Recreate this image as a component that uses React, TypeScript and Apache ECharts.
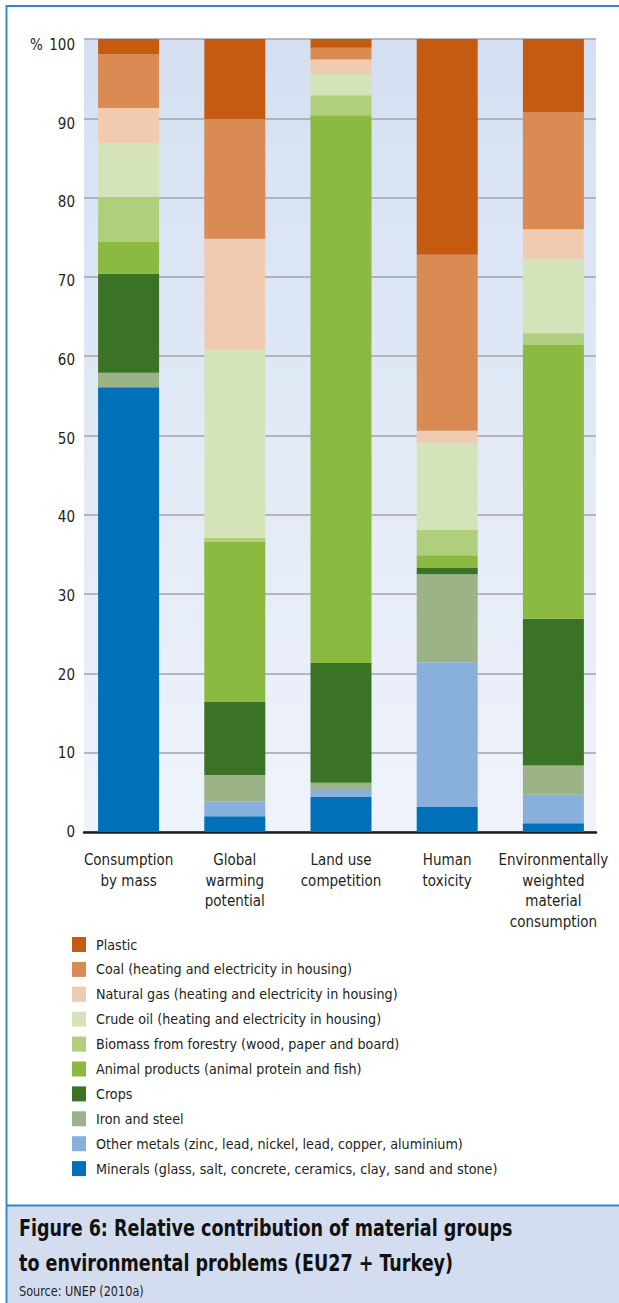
import React, { useEffect, useRef } from "react";
import * as echarts from "echarts";

const categories = [
  "Consumption\nby mass",
  "Global\nwarming\npotential",
  "Land use\ncompetition",
  "Human\ntoxicity",
  "Environmentally\nweighted\nmaterial\nconsumption",
];
const yTicks = [0, 10, 20, 30, 40, 50, 60, 70, 80, 90, 100];

const minerals = [56.1, 2.0, 4.4, 3.2, 1.1];
const otherMetals = [0, 1.8, 0.9, 18.2, 3.6];
const ironSteel = [1.8, 3.4, 0.9, 11.1, 3.7];
const crops = [12.5, 9.2, 15.1, 0.8, 18.5];
const animalProducts = [4.0, 20.2, 69.1, 1.6, 34.5];
const biomass = [5.7, 0.5, 2.5, 3.2, 1.5];
const crudeOil = [6.8, 23.8, 2.7, 11.0, 9.4];
const naturalGas = [4.4, 13.9, 1.8, 1.5, 3.7];
const coal = [6.8, 15.1, 1.5, 22.2, 14.8];
const plastic = [1.9, 10.1, 1.1, 27.2, 9.2];

const seriesNames = [
  "Minerals (glass, salt, concrete, ceramics, clay, sand and stone)",
  "Other metals (zinc, lead, nickel, lead, copper, aluminium)",
  "Iron and steel",
  "Crops",
  "Animal products (animal protein and fish)",
  "Biomass from forestry (wood, paper and board)",
  "Crude oil (heating and electricity in housing)",
  "Natural gas (heating and electricity in housing)",
  "Coal (heating and electricity in housing)",
  "Plastic",
];
const seriesData = [minerals, otherMetals, ironSteel, crops, animalProducts, biomass, crudeOil, naturalGas, coal, plastic];
const seriesColors = [
  "#0070b8",
  "#89b0dd",
  "#9bb387",
  "#3a7326",
  "#8aba3f",
  "#b0cf7c",
  "#d4e4b8",
  "#f0cbb0",
  "#d98b53",
  "#c55a11",
];

const FONT = "'DejaVu Sans Condensed', 'Open Sans', sans-serif";
const TEXT = "#231f20";

export default function App() {
  const ref = useRef<HTMLDivElement>(null);
  useEffect(() => {
    document.body.style.margin = "0";
    const chart = echarts.init(ref.current!, undefined, { renderer: "svg" });
    const top = 39;
    const height = 793;
    const option: any = {
      animation: false,
      textStyle: { fontFamily: FONT },
      grid: [
        {
          left: 84,
          width: 512,
          top,
          height,
          show: true,
          borderWidth: 0,
          backgroundColor: new echarts.graphic.LinearGradient(0, 0, 0, 1, [
            { offset: 0, color: "#d4e0f2" },
            { offset: 1, color: "#eff3fb" },
          ]),
        },
        { left: 75.5, width: 531, top, height },
        { left: 84, width: 512, top: 45, height: 787 },
      ],
      xAxis: [
        {
          gridIndex: 0,
          type: "category",
          data: categories,
          axisLine: { show: true, lineStyle: { color: "#1e1e1e", width: 2.5 } },
          axisTick: { show: false },
          axisLabel: { show: false },
        },
        {
          gridIndex: 1,
          type: "category",
          data: categories,
          axisLine: { show: false },
          axisTick: { show: false },
          axisLabel: {
            interval: 0,
            fontSize: 15,
            color: TEXT,
            fontFamily: FONT,
            lineHeight: 20.5,
            margin: 18,
          },
        },
        {
          gridIndex: 2,
          type: "category",
          data: categories,
          show: false,
        },
      ],
      yAxis: [
        {
          gridIndex: 0,
          type: "value",
          min: 0,
          max: 100,
          interval: 10,
          axisLine: { show: false },
          axisTick: { show: false },
          splitLine: { show: true, lineStyle: { color: "#a0a4ab", width: 1.6 } },
          axisLabel: { show: false },
        },
        {
          gridIndex: 1,
          type: "value",
          min: 0,
          max: 100,
          interval: 10,
          show: false,
          splitLine: { show: false },
        },
        {
          gridIndex: 2,
          type: "value",
          min: 0,
          max: 100,
          interval: 10,
          axisLine: { show: false },
          axisTick: { show: false },
          splitLine: { show: false },
          axisLabel: {
            fontSize: 15,
            color: TEXT,
            fontFamily: FONT,
            margin: 9,
            formatter: (v: number) => (yTicks.includes(v) ? String(v) : ""),
          },
        },
      ],
      legend: {
        orient: "vertical",
        left: 72,
        top: 937,
        itemWidth: 14,
        itemHeight: 15,
        itemGap: 9.9,
        padding: 0,
        icon: "rect",
        data: seriesNames.slice().reverse(),
        textStyle: {
          fontSize: 14.2,
          lineHeight: 15,
          color: TEXT,
          fontFamily: FONT,
          padding: [0, 0, 0, 5],
        },
      },
      series: seriesNames.map((name, i) => ({
        name,
        type: "bar",
        stack: "total",
        xAxisIndex: 1,
        yAxisIndex: 1,
        barWidth: 61,
        data: seriesData[i],
        itemStyle: { color: seriesColors[i] },
      })),
      graphic: [
        {
          type: "text",
          x: 30,
          y: 37,
          style: { text: "%", fontSize: 15, fill: TEXT, fontFamily: FONT },
        },
        {
          type: "rect",
          shape: { x: 7, y: 1206, width: 612, height: 97 },
          style: { fill: "#d3ddef" },
          z: -1,
        },
        {
          type: "line",
          shape: { x1: 6, y1: 6, x2: 619, y2: 6 },
          style: { stroke: "#2f86c6", lineWidth: 2 },
        },
        {
          type: "line",
          shape: { x1: 6.5, y1: 5, x2: 6.5, y2: 1303 },
          style: { stroke: "#3a8cc8", lineWidth: 2 },
        },
        {
          type: "line",
          shape: { x1: 6, y1: 1205.5, x2: 619, y2: 1205.5 },
          style: { stroke: "#2f86c6", lineWidth: 2 },
        },
        {
          type: "text",
          x: 19,
          y: 1210,
          scaleX: 0.83,
          style: {
            text: "Figure 6: Relative contribution of material groups\nto environmental problems (EU27 + Turkey)",
            fontSize: 23.5,
            fontWeight: "bold",
            lineHeight: 35,
            fill: "#111111",
            fontFamily: FONT,
          },
        },
        {
          type: "text",
          x: 19,
          y: 1284,
          scaleX: 0.93,
          style: { text: "Source: UNEP (2010a)", fontSize: 13.5, fill: TEXT, fontFamily: FONT },
        },
      ],
    };
    chart.setOption(option);
    return () => chart.dispose();
  }, []);
  return <div ref={ref} style={{ width: 619, height: 1303 }} />;
}
